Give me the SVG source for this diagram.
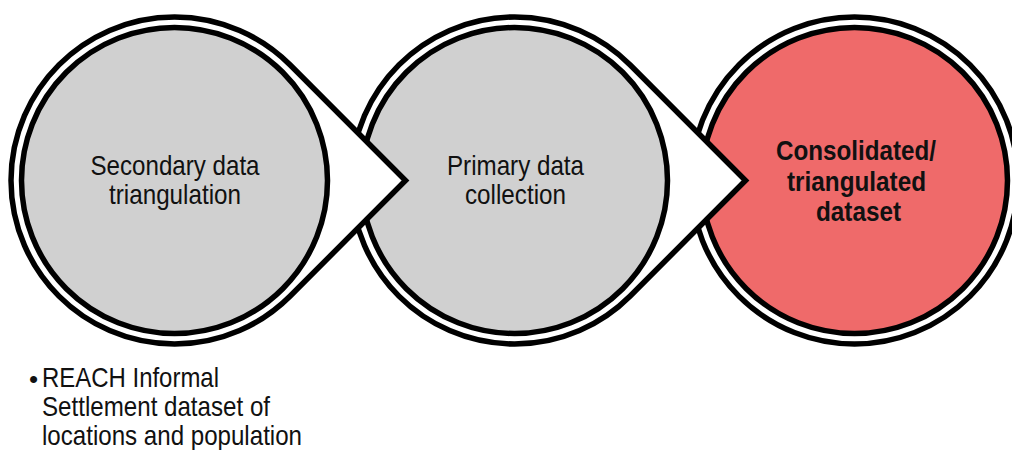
<svg xmlns="http://www.w3.org/2000/svg" width="1012" height="450" viewBox="0 0 1012 450">
  <style>
    .outer { fill: #ffffff; stroke: #000000; stroke-width: 5.5; stroke-linejoin: miter; stroke-miterlimit: 10; }
    .inner { stroke: #000000; stroke-width: 5.5; }
    .grey { fill: #d0d0d0; }
    .red { fill: #ef6a6a; }
    .lbl { font-family: "Liberation Sans", Arial, sans-serif; font-size: 28px; fill: #111111; text-anchor: middle; }
    .bold { font-weight: bold; }
    .note { font-family: "Liberation Sans", Arial, sans-serif; font-size: 28px; fill: #111111; }
  </style>
  <rect width="1012" height="450" fill="#ffffff"/>

  <!-- drawn right to left so each pointer sits on top of the next circle -->
  <g id="node-consolidated">
    <circle class="outer" cx="854.5" cy="180.5" r="163.5"/>
    <circle class="inner red" cx="854.5" cy="180.5" r="153"/>
    <text class="lbl bold" x="856" y="159.5" textLength="160" lengthAdjust="spacingAndGlyphs">Consolidated/</text>
    <text class="lbl bold" x="856.5" y="190.5" textLength="139" lengthAdjust="spacingAndGlyphs">triangulated</text>
    <text class="lbl bold" x="858.5" y="220.5" textLength="85" lengthAdjust="spacingAndGlyphs">dataset</text>
  </g>

  <g id="node-primary">
    <path class="outer" d="M630.23,65 L745.5,180.5 L630.23,296 A163.5,163.5 0 1 1 630.23,65 Z"/>
    <circle class="inner grey" cx="514.5" cy="180.5" r="153"/>
    <text class="lbl" x="515.5" y="175" textLength="137" lengthAdjust="spacingAndGlyphs">Primary data</text>
    <text class="lbl" x="515.5" y="204" textLength="101" lengthAdjust="spacingAndGlyphs">collection</text>
  </g>

  <g id="node-secondary">
    <path class="outer" d="M290.23,65 L405.5,180.5 L290.23,296 A163.5,163.5 0 1 1 290.23,65 Z"/>
    <circle class="inner grey" cx="174.5" cy="180.5" r="153"/>
    <text class="lbl" x="175" y="175" textLength="169" lengthAdjust="spacingAndGlyphs">Secondary data</text>
    <text class="lbl" x="175" y="204" textLength="132" lengthAdjust="spacingAndGlyphs">triangulation</text>
  </g>

  <g id="connectors"></g>

  <g id="note-secondary">
    <text class="note" x="29" y="388" style="font-size:26px">•</text>
    <text class="note" x="42" y="387" textLength="177" lengthAdjust="spacingAndGlyphs">REACH Informal</text>
    <text class="note" x="42" y="416" textLength="228" lengthAdjust="spacingAndGlyphs">Settlement dataset of</text>
    <text class="note" x="42" y="445" textLength="260" lengthAdjust="spacingAndGlyphs">locations and population</text>
  </g>
</svg>
